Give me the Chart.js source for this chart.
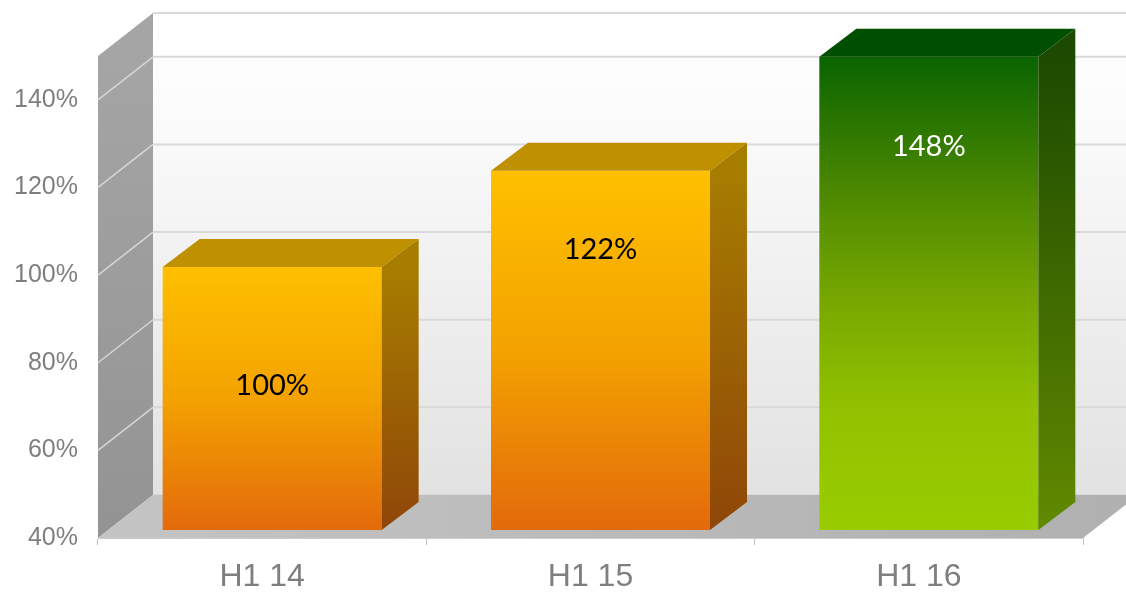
<!DOCTYPE html>
<html>
<head>
<meta charset="utf-8">
<script src="https://cdn.jsdelivr.net/npm/chart.js@4.4.0/dist/chart.umd.min.js"></script>
<style>
  html, body { margin: 0; padding: 0; background: #fff; }
  #wrap { width: 1126px; height: 594px; }
</style>
</head>
<body>
<div id="wrap"><canvas id="growthChart"></canvas></div>
<script>
// --- Chart data ---
const periods = ['H1 14', 'H1 15', 'H1 16'];
const growthValues = [100, 122, 148];
const yTicks = [40, 60, 80, 100, 120, 140];
const Y_MIN = 40;
const Y_MAX = 150;

// --- 3D geometry (pixels) ---
const WALL_DEPTH = { dx: 55, dy: -43 };   // front plane -> back wall
const BAR_OFFSET = { dx: 10, dy: -8 };    // front plane -> bar front face
const BAR_DEPTH = { dx: 37, dy: -28 };    // bar front face -> bar back face
const LABEL_AT = [0.55, 0.78, 0.81];      // label height as fraction of bar, from base

// front face gradient stops run top -> bottom
const orangeFront = [[0, '#FFC000'], [0.5, '#F3A200'], [1, '#E36A0B']];
const greenFront = [[0, '#0A6400'], [0.3, '#4F8A00'], [0.52, '#78A800'], [0.75, '#93C200'], [1, '#99CC00']];

const barStyles = [
    { front: orangeFront, cap: '#BF9000', sideTop: '#A77D00', sideBottom: '#8F4608', text: '#000000' },
    { front: orangeFront, cap: '#BF9000', sideTop: '#A77D00', sideBottom: '#8F4608', text: '#000000' },
    { front: greenFront, cap: '#004F00', sideTop: '#1C4A00', sideBottom: '#628A00', text: '#FFFFFF' }
];

function poly(ctx, pts, fill) {
    ctx.beginPath();
    ctx.moveTo(pts[0][0], pts[0][1]);
    for (let i = 1; i < pts.length; i++) ctx.lineTo(pts[i][0], pts[i][1]);
    ctx.closePath();
    ctx.fillStyle = fill;
    ctx.fill();
}

// back wall, side wall and floor, with gridlines
const wallsPlugin = {
    id: 'walls',
    beforeDraw(chart) {
        const { ctx, chartArea: a, scales: { y } } = chart;
        const dx = WALL_DEPTH.dx, dy = WALL_DEPTH.dy;
        const top = y.getPixelForValue(Y_MAX), bottom = y.getPixelForValue(Y_MIN);
        ctx.save();

        // back wall
        let g = ctx.createLinearGradient(0, top + dy, 0, bottom + dy);
        g.addColorStop(0, '#ffffff');
        g.addColorStop(0.2, '#fcfcfc');
        g.addColorStop(0.55, '#f0f0f0');
        g.addColorStop(1, '#e2e2e2');
        ctx.fillStyle = g;
        ctx.fillRect(a.left + dx, top + dy, chart.width, bottom - top);

        // back wall gridlines
        ctx.strokeStyle = '#d9d9d9';
        ctx.lineWidth = 2;
        yTicks.concat([Y_MAX]).forEach(v => {
            const py = y.getPixelForValue(v) + dy;
            ctx.beginPath();
            ctx.moveTo(a.left + dx, py);
            ctx.lineTo(chart.width, py);
            ctx.stroke();
        });

        // left wall
        g = ctx.createLinearGradient(0, top, 0, bottom);
        g.addColorStop(0, '#a5a5a5');
        g.addColorStop(1, '#939393');
        poly(ctx, [[a.left, top], [a.left + dx, top + dy], [a.left + dx, bottom + dy], [a.left, bottom]], g);

        ctx.strokeStyle = '#d6d6d6';
        ctx.lineWidth = 1.5;
        yTicks.slice(1).forEach(v => {
            const py = y.getPixelForValue(v);
            ctx.beginPath();
            ctx.moveTo(a.left, py);
            ctx.lineTo(a.left + dx, py + dy);
            ctx.stroke();
        });

        // floor
        g = ctx.createLinearGradient(a.left, 0, a.right + dx, 0);
        g.addColorStop(0, '#c4c4c4');
        g.addColorStop(1, '#b0b0b0');
        poly(ctx, [[a.left, bottom], [a.left + dx, bottom + dy], [a.right + dx, bottom + dy], [a.right, bottom]], g);

        ctx.restore();
    }
};

// shifts bars into the depth, adds top/side faces and value labels
const bars3dPlugin = {
    id: 'bars3d',
    beforeDatasetsDraw(chart) {
        chart.ctx.save();
        chart.ctx.translate(BAR_OFFSET.dx, BAR_OFFSET.dy);
    },
    afterDatasetsDraw(chart) {
        const ctx = chart.ctx;
        const meta = chart.getDatasetMeta(0);
        meta.data.forEach((bar, i) => {
            const s = barStyles[i];
            const { x, y, width, base } = bar.getProps(['x', 'y', 'width', 'base'], true);
            const l = x - width / 2, r = x + width / 2;
            const dx = BAR_DEPTH.dx, dy = BAR_DEPTH.dy;

            // top face
            poly(ctx, [[l, y], [l + dx, y + dy], [r + dx, y + dy], [r, y]], s.cap);

            // side face
            const g = ctx.createLinearGradient(0, y, 0, base);
            g.addColorStop(0, s.sideTop);
            g.addColorStop(1, s.sideBottom);
            poly(ctx, [[r, y], [r + dx, y + dy], [r + dx, base + dy], [r, base]], g);

            // value label
            ctx.fillStyle = s.text;
            ctx.font = '29px Lato, "Open Sans", sans-serif';
            ctx.textAlign = 'center';
            ctx.textBaseline = 'middle';
            const ly = base - (base - y) * LABEL_AT[i];
            ctx.fillText(growthValues[i] + '%', x, ly);
        });
        ctx.restore();
    }
};

function frontFill(context) {
    const i = context.dataIndex;
    const s = barStyles[i] || barStyles[0];
    const ys = context.chart.scales.y;
    if (!ys || i === undefined) return s.front[0][1];
    const yTop = ys.getPixelForValue(growthValues[i]);
    const yBase = ys.getPixelForValue(Y_MIN);
    if (!isFinite(yTop) || !isFinite(yBase) || yTop === yBase) return s.front[0][1];
    const g = context.chart.ctx.createLinearGradient(0, yTop, 0, yBase);
    s.front.forEach(([stop, color]) => g.addColorStop(stop, color));
    return g;
}

new Chart(document.getElementById('growthChart'), {
    type: 'bar',
    data: {
        labels: periods,
        datasets: [{
            data: growthValues,
            base: Y_MIN,
            backgroundColor: frontFill,
            borderWidth: 0,
            barPercentage: 0.667,
            categoryPercentage: 1,
            clip: false
        }]
    },
    options: {
        responsive: true,
        maintainAspectRatio: false,
        animation: false,
        layout: { padding: { top: 56, right: 43, left: 0, bottom: 0 } },
        plugins: { legend: { display: false }, tooltip: { enabled: false } },
        scales: {
            x: {
                grid: { display: true, drawOnChartArea: false, drawTicks: true, tickLength: 7, color: '#bfbfbf', offset: true },
                border: { display: true, color: '#cdcdcd' },
                ticks: { color: '#7f7f7f', font: { family: '"Liberation Sans", Arial, sans-serif', size: 32 }, padding: 13 },
                afterFit: s => { s.height = 56; }
            },
            y: {
                min: Y_MIN,
                max: Y_MAX,
                grid: { display: false, drawTicks: false },
                border: { display: false },
                afterBuildTicks: s => { s.ticks = yTicks.map(v => ({ value: v })); },
                ticks: {
                    color: '#7f7f7f',
                    font: { family: '"Liberation Sans", Arial, sans-serif', size: 25 },
                    padding: 20,
                    callback: v => v + '%'
                },
                afterFit: s => { s.width = 98; }
            }
        }
    },
    plugins: [wallsPlugin, bars3dPlugin]
});
</script>
</body>
</html>
